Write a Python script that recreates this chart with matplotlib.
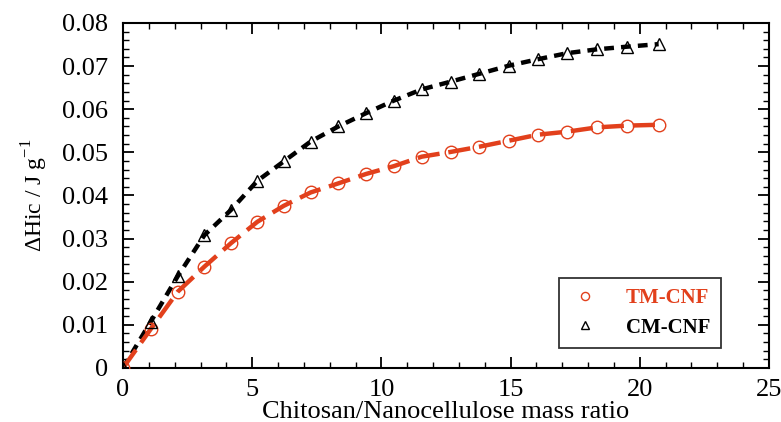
import numpy as np
import matplotlib
matplotlib.use('Agg')
import matplotlib.pyplot as plt
from matplotlib.ticker import MultipleLocator, FuncFormatter

plt.rcParams['font.family'] = ['Liberation Serif', 'DejaVu Serif']
plt.rcParams['mathtext.fontset'] = 'custom'
plt.rcParams['mathtext.rm'] = 'Liberation Serif'

# mass ratio (x) and heat of interaction (y)
ratio = [0, 1.07, 2.12, 3.15, 4.17, 5.2, 6.22, 7.26, 8.33, 9.41,
         10.48, 11.56, 12.68, 13.78, 14.93, 16.06, 17.19, 18.35, 19.49, 20.73]
tmCNF = [0.0, 0.0090, 0.0177, 0.0235, 0.0289, 0.0339, 0.0376, 0.0407, 0.0428, 0.0450,
         0.0468, 0.0490, 0.0501, 0.0513, 0.0527, 0.0541, 0.0548, 0.0558, 0.0562, 0.0564]
cmCNF = [0.0, 0.0107, 0.0213, 0.0308, 0.0366, 0.0434, 0.0479, 0.0525, 0.0560, 0.0591,
         0.0620, 0.0646, 0.0664, 0.0682, 0.0701, 0.0716, 0.0730, 0.0739, 0.0745, 0.0751]

redCol = '#e2401c'

fig = plt.figure(figsize=(7.81, 4.22), dpi=100)
ax = fig.add_axes([0.1575, 0.128, 0.8271, 0.8175])

# fit lines (dashed) through the points
ax.plot(ratio, cmCNF, color='black', lw=3.2, linestyle=(0, (2.2, 1.6)), zorder=2)
ax.plot(ratio, tmCNF, color=redCol, lw=3.2, linestyle=(0, (5, 2)), zorder=2)

# markers
ax.plot(ratio, tmCNF, linestyle='none', marker='o', markersize=9,
        markerfacecolor='none', markeredgecolor=redCol, markeredgewidth=1.0,
        label='TM-CNF', zorder=3)
ax.plot(ratio, cmCNF, linestyle='none', marker='^', markersize=9,
        markerfacecolor='none', markeredgecolor='black', markeredgewidth=1.0,
        label='CM-CNF', zorder=3)

ax.set_xlim(0, 25)
ax.set_ylim(0, 0.08)
ax.xaxis.set_major_locator(MultipleLocator(5))
ax.xaxis.set_minor_locator(MultipleLocator(1))
ax.yaxis.set_major_locator(MultipleLocator(0.01))
ax.yaxis.set_minor_locator(MultipleLocator(0.002))
ax.yaxis.set_major_formatter(FuncFormatter(lambda v, p: '0' if abs(v) < 1e-9 else '%.2f' % v))

ax.tick_params(which='both', direction='in', top=True, right=True, labelsize=19)
ax.tick_params(which='major', length=8, width=1.3)
ax.tick_params(which='minor', length=4, width=1.0)
ax.tick_params(axis='y', which='major', pad=11)
ax.tick_params(axis='x', which='major', pad=8)
for s in ['top', 'bottom', 'left', 'right']:
    ax.spines[s].set_linewidth(1.5)

ax.set_xlabel('Chitosan/Nanocellulose mass ratio', fontsize=19, labelpad=0)
ax.set_ylabel(r'ΔHic / J g$^{\mathregular{-1}}$', fontsize=17, labelpad=8)

leg = ax.legend(loc='lower right', bbox_to_anchor=(0.925, 0.058), frameon=True,
                fancybox=False, edgecolor='black', fontsize=15, handletextpad=1.2,
                borderpad=0.5, labelspacing=0.45, handlelength=1.5, markerscale=0.65,
                borderaxespad=0)
leg.get_frame().set_linewidth(1.3)
for txt, col in zip(leg.get_texts(), [redCol, 'black']):
    txt.set_color(col)
    txt.set_fontweight('bold')

plt.savefig('out.png', dpi=100)
